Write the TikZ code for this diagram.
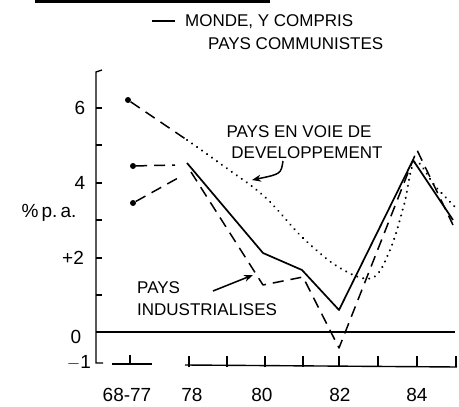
\documentclass[tikz,border=0pt]{standalone}
\usepackage{fontspec}
\setmainfont{Liberation Sans}
\usetikzlibrary{arrows.meta}
\begin{document}
\begin{tikzpicture}[x=1pt,y=-1pt,
  hand/.style={font=\fontsize{17}{19}\selectfont, inner sep=0pt},
  big/.style={font=\fontsize{19}{21}\selectfont, inner sep=0pt},
  ax/.style={line width=1.4pt},
  tick/.style={line width=1.8pt},
  world/.style={line width=1.7pt, line join=round},
  indus/.style={line width=1.5pt, dash pattern=on 11pt off 7pt, line join=round},
  devel/.style={line width=2.2pt, dash pattern=on 0.1pt off 6pt, line cap=round},
  dotmark/.style={circle, fill, inner sep=0pt, minimum size=6pt},
  ptr/.style={line width=1.5pt, -{Stealth[length=9pt,width=7pt]}}]
\useasboundingbox (0,0) rectangle (459,407);
% top rule
\draw[line width=3.5pt] (35,1.5) -- (270,1.5);
% legend
\coordinate (lg1) at (152,21);
\coordinate (lg2) at (175,21);
\draw[world] (lg1) -- (lg2);
\node[hand, anchor=west] (lgt1) at (185,22) {MONDE, Y COMPRIS};
\node[hand, anchor=west] (lgt2) at (208,44) {PAYS COMMUNISTES};
% axes
\draw[ax] (102,70) -- (96,72) -- (96,363) -- (103,363);
\foreach \yy in {108,145,183,220,258,295} \draw[tick] (96,\yy) -- (102,\yy);
\draw[line width=1.6pt] (96,332) -- (455,332);
\draw[ax] (112,364) -- (152,364);
\draw[tick] (130,364) -- (130,355);
\draw[ax] (185,365) -- (457,367);
\foreach \xx in {189,227,265,303,339,378,417,456} \draw[tick] (\xx,367) -- (\xx,356);
% axis labels
\node[big] (y6) at (80,108) {6};
\node[big] (y4) at (80,183) {4};
\node[big] (ypa) at (49,213) {\%\,p.\,a.};
\node[big] (y2) at (73,258) {+2};
\node[big] (y0) at (76,337) {0};
\node[big] (ym1) at (79,363) {$-$1};
\node[big] (x6877) at (127,395) {68-77};
\node[big] (x78) at (192,395) {78};
\node[big] (x80) at (262,395) {80};
\node[big] (x82) at (340,395) {82};
\node[big] (x84) at (417,395) {84};
% starting dots
\node[dotmark] (d1) at (128,100) {};
\node[dotmark] (d2) at (133,166) {};
\node[dotmark] (d3) at (133,203) {};
% developing countries (dotted)
\coordinate (v78) at (187,140);
\draw[indus] (d1) -- (v78);
\draw[devel] plot[smooth, tension=0.6] coordinates {(187,140) (225,167) (265,197) (303,238) (340,268) (372,278) (390,250) (404,205) (415,162) (435,186) (455,207)};
% world (solid)
\coordinate (w78) at (187,163);
\coordinate (w80) at (263,253);
\coordinate (w81) at (302,270);
\coordinate (w82) at (339,310);
\coordinate (w84) at (413,160);
\coordinate (w85) at (453,220);
\draw[world] (w78) -- (w80) -- (w81) -- (w82) -- (w84) -- (w85);
% industrialised (dashed)
\coordinate (e2) at (175,165);
\coordinate (e3) at (178,178);
\draw[indus] (d2) -- (e2);
\draw[indus] (d3) -- (e3);
\coordinate (i78) at (191,172);
\coordinate (i80) at (263,285);
\coordinate (i81) at (303,277);
\coordinate (i82) at (339,348);
\coordinate (i84) at (417,150);
\coordinate (i85) at (453,225);
\draw[indus] (i78) -- (i80) -- (i81) -- (i82) -- (i84) -- (i85);
% labels with pointers
\node[hand] (dev1) at (299,132) {PAYS EN VOIE DE};
\node[hand] (dev2) at (307,153) {DEVELOPPEMENT};
\coordinate (da1) at (283,161);
\coordinate (da2) at (252,180);
\draw[ptr] (da1) .. controls (281,174) .. (da2);
\node[hand, anchor=west] (ind1) at (137,288) {PAYS};
\node[hand, anchor=west] (ind2) at (137,310) {INDUSTRIALISES};
\coordinate (ia1) at (213,291);
\coordinate (ia2) at (253,275);
\draw[ptr] (ia1) -- (ia2);
\end{tikzpicture}
\end{document}
